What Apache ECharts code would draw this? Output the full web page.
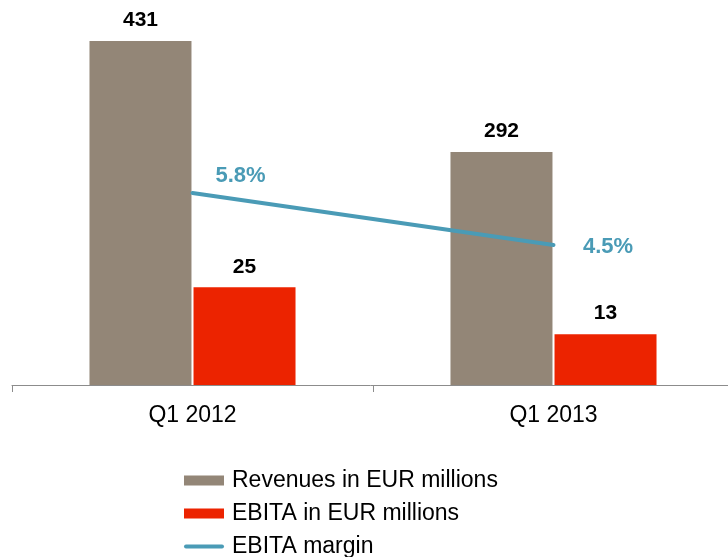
<!DOCTYPE html>
<html lang="en">
<head>
    <meta charset="utf-8" />
    <title>Revenues and EBITA</title>
    <script type="text/javascript" src="https://cdn.jsdelivr.net/npm/echarts/dist/echarts.min.js"></script>
    <style>
        html, body { margin: 0; padding: 0; background: #fff; }
        #chart { width: 728px; height: 557px; }
    </style>
</head>
<body>
    <div id="chart"></div>
    <script type="text/javascript">
        var categories = ['Q1 2012', 'Q1 2013'];
        var revenues = [431, 292];
        var ebita = [25, 13];
        var margin = [5.8, 4.5];

        var font = '"Liberation Sans", Arial, sans-serif';
        var chart = echarts.init(document.getElementById('chart'));

        var option = {
            animation: false,
            textStyle: { fontFamily: font },
            grid: { left: 12, top: 41, right: -6, height: 344, outerBoundsMode: 'none', containLabel: false },
            legend: {
                orient: 'vertical',
                left: 184,
                top: 469,
                height: 120,
                padding: 0,
                itemWidth: 40,
                itemHeight: 10,
                itemGap: 10,
                textStyle: { fontSize: 23, lineHeight: 21, color: '#000', fontFamily: font, padding: [0, 0, 0, 3] },
                data: [
                    { name: 'Revenues in EUR millions', icon: 'rect' },
                    { name: 'EBITA in EUR millions', icon: 'rect' },
                    { name: 'EBITA margin', icon: 'path://M2,0 L38,0 A2,2 0 0 1 38,4 L2,4 A2,2 0 0 1 2,0 Z' }
                ]
            },
            xAxis: {
                type: 'category',
                data: categories,
                axisLine: { lineStyle: { color: '#8c8c8c', width: 1 } },
                axisTick: { show: true, length: 7, lineStyle: { color: '#8c8c8c' } },
                axisLabel: { fontSize: 23, color: '#000', margin: 19, fontFamily: font }
            },
            yAxis: [
                { type: 'value', min: 0, max: 431, show: false },
                { type: 'value', min: 0, max: 88, show: false },
                { type: 'value', min: 1, max: 9.6, show: false }
            ],
            series: [
                {
                    name: 'Revenues in EUR millions',
                    type: 'bar',
                    yAxisIndex: 0,
                    barWidth: 102,
                    barGap: '2%',
                    itemStyle: { color: '#938677' },
                    label: {
                        show: true, position: 'top', distance: 10,
                        fontSize: 21, fontWeight: 'bold', color: '#000', fontFamily: font
                    },
                    data: revenues
                },
                {
                    name: 'EBITA in EUR millions',
                    type: 'bar',
                    yAxisIndex: 1,
                    barWidth: 102,
                    itemStyle: { color: '#ec2300' },
                    label: {
                        show: true, position: 'top', distance: 10,
                        fontSize: 21, fontWeight: 'bold', color: '#000', fontFamily: font
                    },
                    data: ebita
                },
                {
                    name: 'EBITA margin',
                    type: 'line',
                    yAxisIndex: 2,
                    symbol: 'circle',
                    symbolSize: 1,
                    showSymbol: true,
                    z: 5,
                    lineStyle: { color: '#4a9bb6', width: 4, cap: 'round' },
                    itemStyle: { color: '#4a9bb6' },
                    label: {
                        show: true,
                        fontSize: 22, fontWeight: 'bold', color: '#4a9bb6', fontFamily: font,
                        formatter: function (p) { return p.value.toFixed(1) + '%'; }
                    },
                    data: [
                        { value: margin[0], label: { position: 'top', offset: [48, -1] } },
                        { value: margin[1], label: { position: 'right', offset: [24, 2] } }
                    ]
                }
            ]
        };

        chart.setOption(option);
    </script>
</body>
</html>
